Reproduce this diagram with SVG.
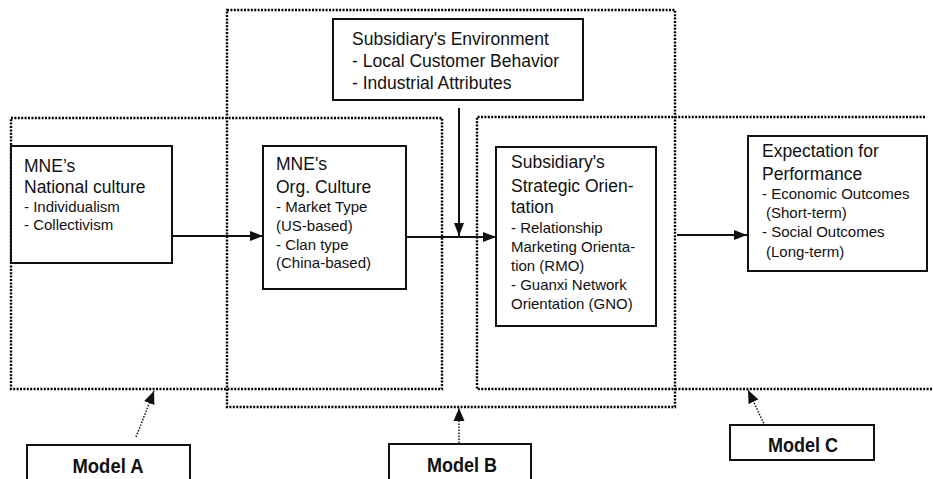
<svg xmlns="http://www.w3.org/2000/svg" width="933" height="479" viewBox="0 0 933 479">
<style>
.bg{fill:#ffffff}
.dot{fill:none;stroke:#000;stroke-width:2.4;stroke-dasharray:2 1.4}
.box{fill:#ffffff;stroke:#111;stroke-width:2}
.h{font-family:"Liberation Sans",Arial,sans-serif;font-size:17.5px;fill:#111}
.s{font-family:"Liberation Sans",Arial,sans-serif;font-size:15px;fill:#111}
.m{font-family:"Liberation Sans",Arial,sans-serif;font-size:20px;font-weight:bold;fill:#111;text-anchor:middle}
.arr{stroke:#111;stroke-width:2;fill:none;marker-end:url(#ah)}
.darr{stroke:#111;stroke-width:1.5;fill:none;stroke-dasharray:1.5 1.5;marker-end:url(#ah2)}
</style>
<defs>
<marker id="ah" markerWidth="14" markerHeight="12" refX="13" refY="6" orient="auto" markerUnits="userSpaceOnUse">
<path d="M0,1 L13,6 L0,11 Z" fill="#111"/>
</marker>
<marker id="ah2" markerWidth="14" markerHeight="12" refX="13" refY="6" orient="auto" markerUnits="userSpaceOnUse">
<path d="M0,0.5 L13,6 L0,11.5 Z" fill="#111"/>
</marker>
</defs>
<rect class="bg" x="0" y="0" width="933" height="479"/>

<g id="model-frames">
<rect id="frame-b" class="dot" x="227" y="10" width="448" height="397"/>
<rect id="frame-a" class="dot" x="11" y="118" width="431" height="271"/>
<path id="frame-c" class="dot" d="M925,117 L477,117 L477,389 L933,389"/>
</g>

<g id="connectors">
<line class="arr" x1="172" y1="236" x2="263" y2="236"/>
<line class="arr" x1="406" y1="237" x2="496" y2="237"/>
<line class="arr" x1="459" y1="108" x2="459" y2="236"/>
<line class="arr" x1="677" y1="235" x2="747" y2="235"/>
<line class="darr" x1="136" y1="437" x2="154" y2="391"/>
<line class="darr" x1="459" y1="443" x2="459" y2="408"/>
<line class="darr" x1="765" y1="426" x2="748" y2="390"/>
</g>

<g id="env">
<rect class="box" x="333" y="19" width="250" height="81"/>
<text class="h" x="352" y="45">Subsidiary's Environment</text>
<text class="h" x="352" y="67">- Local Customer Behavior</text>
<text class="h" x="352" y="89">- Industrial Attributes</text>
</g>

<g id="national">
<rect class="box" x="11" y="146" width="161" height="117"/>
<text class="h" x="24" y="172">MNE’s</text>
<text class="h" x="24" y="193">National culture</text>
<text class="s" x="24" y="212">- Individualism</text>
<text class="s" x="24" y="230">- Collectivism</text>
</g>

<g id="org">
<rect class="box" x="263" y="146" width="143" height="143"/>
<text class="h" x="276" y="170">MNE's</text>
<text class="h" x="276" y="193">Org. Culture</text>
<text class="s" x="276" y="212">- Market Type</text>
<text class="s" x="276" y="231">(US-based)</text>
<text class="s" x="276" y="250">- Clan type</text>
<text class="s" x="276" y="268">(China-based)</text>
</g>

<g id="strategic">
<rect class="box" x="496" y="147" width="160" height="179"/>
<text class="h" x="511" y="168">Subsidiary's</text>
<text class="h" x="511" y="192">Strategic Orien-</text>
<text class="h" x="511" y="213">tation</text>
<text class="s" x="511" y="233">- Relationship</text>
<text class="s" x="511" y="252">Marketing Orienta-</text>
<text class="s" x="511" y="271">tion (RMO)</text>
<text class="s" x="511" y="290">- Guanxi Network</text>
<text class="s" x="511" y="309">Orientation (GNO)</text>
</g>

<g id="expectation">
<rect class="box" x="748" y="136" width="179" height="135"/>
<text class="h" x="762" y="157">Expectation for</text>
<text class="h" x="762" y="180">Performance</text>
<text class="s" x="762" y="199">- Economic Outcomes</text>
<text class="s" x="766" y="218">(Short-term)</text>
<text class="s" x="762" y="237">- Social Outcomes</text>
<text class="s" x="766" y="257">(Long-term)</text>
</g>

<g id="model-a">
<rect class="box" x="27" y="445" width="163" height="40"/>
<text class="m" x="108" y="473" textLength="71" lengthAdjust="spacingAndGlyphs">Model A</text>
</g>
<g id="model-b">
<rect class="box" x="389" y="444" width="142" height="40"/>
<text class="m" x="462" y="472" textLength="70" lengthAdjust="spacingAndGlyphs">Model B</text>
</g>
<g id="model-c">
<rect class="box" x="730" y="425" width="144" height="35"/>
<text class="m" x="803" y="452" textLength="70" lengthAdjust="spacingAndGlyphs">Model C</text>
</g>
</svg>
